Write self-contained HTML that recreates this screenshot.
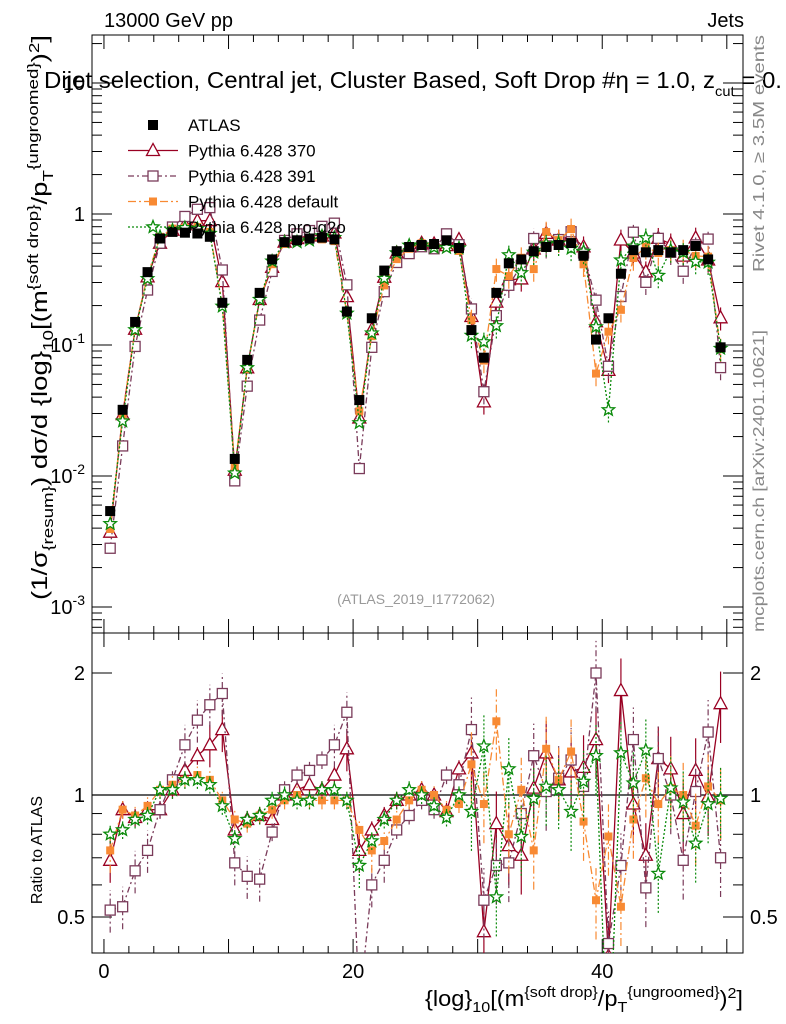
<!DOCTYPE html>
<html><head><meta charset="utf-8"><style>
html,body{margin:0;background:#fff;overflow:hidden;width:786px;height:1024px;}
svg{display:block;font-family:"Liberation Sans",sans-serif;overflow:hidden;}
</style></head><body>
<svg id="c" width="786" height="1024" xmlns="http://www.w3.org/2000/svg"></svg>
<script>
const binCenters=[0.5,1.5,2.5,3.5,4.5,5.5,6.5,7.5,8.5,9.5,10.5,11.5,12.5,13.5,14.5,15.5,16.5,17.5,18.5,19.5,20.5,21.5,22.5,23.5,24.5,25.5,26.5,27.5,28.5,29.5,30.5,31.5,32.5,33.5,34.5,35.5,36.5,37.5,38.5,39.5,40.5,41.5,42.5,43.5,44.5,45.5,46.5,47.5,48.5,49.5];
const atlasValues=[0.0054,0.032,0.15,0.36,0.65,0.73,0.72,0.71,0.67,0.21,0.0135,0.077,0.25,0.45,0.61,0.63,0.65,0.66,0.64,0.18,0.038,0.16,0.37,0.52,0.56,0.58,0.59,0.63,0.55,0.13,0.08,0.25,0.42,0.45,0.52,0.56,0.58,0.6,0.48,0.11,0.16,0.35,0.53,0.51,0.53,0.51,0.53,0.57,0.45,0.096];
const ratio370=[0.69,0.92,0.88,0.92,0.92,1.03,1.15,1.25,1.33,1.45,0.82,0.87,0.89,0.87,1,1.03,1.06,1.03,1.12,1.3,0.73,0.82,0.89,0.97,1,1.03,1,0.91,1.16,1.27,0.46,0.85,0.75,0.71,1.04,1.27,1.09,1.14,1.17,1.37,0.4,1.81,0.95,0.71,1.23,1.16,0.9,1.15,0.99,1.68];
const ratio391=[0.52,0.53,0.65,0.73,0.92,1.09,1.33,1.53,1.67,1.78,0.68,0.63,0.62,0.81,1.03,1.12,1.15,1.22,1.33,1.6,0.3,0.6,0.69,0.82,0.89,0.97,0.92,1.12,1.06,1.45,0.55,0.67,0.68,0.9,1.25,1.02,1.1,1.22,1.05,2.0,0.43,0.67,1.37,0.59,1.23,1.0,0.69,1.02,1.43,0.7];
const ratioDefault=[0.73,0.92,0.89,0.94,1.03,1.06,1.09,1.12,1.09,0.97,0.87,0.85,0.89,0.92,0.97,1,0.97,0.97,0.97,0.97,0.82,0.73,0.77,0.87,0.97,1.03,1,0.92,0.95,1.19,0.95,1.52,0.8,1.03,0.73,1.3,1.09,1.28,0.86,0.55,0.79,0.53,0.87,1.1,0.95,1.04,1.0,0.84,1.05,0.97];
const ratioProQ2o=[0.8,0.82,0.87,0.89,1.03,1.03,1.09,1.09,1.06,0.94,0.78,0.87,0.89,0.97,1,0.97,0.97,1.03,1.03,0.97,0.67,0.77,0.87,0.97,1.03,1,0.94,0.88,1.0,0.91,1.32,0.56,1.16,0.79,0.98,1.05,1.03,0.91,1.08,1.25,0.2,1.27,1.07,1.29,0.64,1.04,0.96,0.76,0.95,0.98];
const xTicks=[0,20,40];
const mainYTicks=[0.001,0.01,0.1,1,10];
const mainYLabels=["10^-3","10^-2","10^-1","1","10"];
const ratioYTicks=[0.5,1,2];

const S=document.getElementById('c');const NS='http://www.w3.org/2000/svg';
function el(t,a,p){const e=document.createElementNS(NS,t);for(const k in a)e.setAttribute(k,a[k]);(p||S).appendChild(e);return e;}
const X0=92,X1=743,MY0=35,MY1=633,RY0=633,RY1=953;
const xMin=-0.96,xMax=51.3;
const xs=v=>X0+(v-xMin)/(xMax-xMin)*(X1-X0);
const ym=v=>214-131*Math.log10(v);
const yr=v=>795-122*Math.log2(v);

let f=el('rect',{x:X0,y:MY0,width:X1-X0,height:MY1-MY0,fill:'none',stroke:'#000','stroke-width':1});

f=el('rect',{x:X0,y:RY0,width:X1-X0,height:RY1-RY0,fill:'none',stroke:'#000','stroke-width':1});


for(let v=0;v<=50;v+=2){const X=xs(v);const L=v%10==0?14:7;
 el('line',{x1:X,x2:X,y1:MY1,y2:MY1-L,stroke:'#000'});el('line',{x1:X,x2:X,y1:MY0,y2:MY0+L,stroke:'#000'});
 el('line',{x1:X,x2:X,y1:RY1,y2:RY1-L,stroke:'#000'});el('line',{x1:X,x2:X,y1:RY0,y2:RY0+L,stroke:'#000'});}
xTicks.forEach(v=>{const t=el('text',{x:xs(v),y:978,'font-size':20,'text-anchor':'middle'});t.textContent=v;
 });
for(let d=-4;d<=1;d++){for(let m=1;m<10;m++){const v=m*Math.pow(10,d);const Y=ym(v);if(Y<MY0||Y>MY1)continue;const L=m==1?20:10;
 el('line',{x1:X0,x2:X0+L,y1:Y,y2:Y,stroke:'#000'});el('line',{x1:X1,x2:X1-L,y1:Y,y2:Y,stroke:'#000'});}}
mainYTicks.forEach((v,i)=>{const lab=mainYLabels[i];const t=el('text',{x:85,y:ym(v)+7,'font-size':20,'text-anchor':'end'});
 
 if(lab.indexOf('^')>0){const p=lab.split('^');t.textContent=p[0];const s=el('tspan',{'font-size':14,dy:-9},t);s.textContent=p[1];}else t.textContent=lab;});
[0.5,0.6,0.7,0.8,0.9,1,2].forEach(v=>{const Y=yr(v);const L=(v==0.5||v==1||v==2)?20:10;
 el('line',{x1:X0,x2:X0+L,y1:Y,y2:Y,stroke:'#000'});el('line',{x1:X1,x2:X1-L,y1:Y,y2:Y,stroke:'#000'});});
ratioYTicks.forEach(v=>{let t=el('text',{x:85,y:yr(v)+7,'font-size':20,'text-anchor':'end'});t.textContent=v;
 
 t=el('text',{x:750,y:yr(v)+7,'font-size':20});t.textContent=v;
 });
el('line',{x1:X0,x2:X1,y1:yr(1),y2:yr(1),stroke:'#000','stroke-width':1.2});

const clipM=el('clipPath',{id:'cm'});el('rect',{x:X0,y:MY0,width:X1-X0,height:MY1-MY0},clipM);
const clipR=el('clipPath',{id:'cr'});el('rect',{x:X0,y:RY0,width:X1-X0,height:RY1-RY0},clipR);

function marker(g,type,X,Y,col){
 if(type=='sq')el('rect',{x:X-5,y:Y-5,width:10,height:10,fill:'#000'},g);
 else if(type=='tri')el('polygon',{points:`${X},${Y-7} ${X-6.5},${Y+5} ${X+6.5},${Y+5}`,fill:'#fff',stroke:col,'stroke-width':1.3},g);
 else if(type=='osq')el('rect',{x:X-5,y:Y-5,width:10,height:10,fill:'#fff',stroke:col,'stroke-width':1.3},g);
 else if(type=='fsq')el('rect',{x:X-4,y:Y-4,width:8,height:8,fill:col},g);
 else if(type=='star'){let p=[];for(let i=0;i<10;i++){const r=i%2?2.8:6.5;const a=-Math.PI/2+i*Math.PI/5;p.push((X+r*Math.cos(a)).toFixed(1)+','+(Y+r*Math.sin(a)).toFixed(1));}
  el('polygon',{points:p.join(' '),fill:'#fff',stroke:col,'stroke-width':1.3},g);}
}
const series=[
 {name:'pythia-370',r:ratio370,col:'#990022',dash:'',m:'tri'},
 {name:'pythia-391',r:ratio391,col:'#7a3b5a',dash:'6,3,2,3',m:'osq'},
 {name:'pythia-default',r:ratioDefault,col:'#f88a33',dash:'8,3,2,3',m:'fsq'},
 {name:'pythia-pro-q2o',r:ratioProQ2o,col:'#0a8a0a',dash:'2,2',m:'star'}];
series.forEach(s=>{
 const gm=el('g',{'clip-path':'url(#cm)'});
 const gr=el('g',{'clip-path':'url(#cr)'});
 const pm=binCenters.map((x,i)=>xs(x)+','+ym(atlasValues[i]*s.r[i])).join(' ');
 const pr=binCenters.map((x,i)=>xs(x)+','+yr(s.r[i])).join(' ');
 el('polyline',{points:pm,fill:'none',stroke:s.col,'stroke-width':1.3,'stroke-dasharray':s.dash},gm);
 el('polyline',{points:pr,fill:'none',stroke:s.col,'stroke-width':1.3,'stroke-dasharray':s.dash},gr);
 binCenters.forEach((x,i)=>{const v=atlasValues[i]*s.r[i];let e=Math.abs(s.r[i]-1)>0.25?0.12:0.05;if(x>29)e=0.2;
  el('line',{x1:xs(x),x2:xs(x),y1:yr(s.r[i]*(1-e)),y2:yr(s.r[i]*(1+e)),stroke:s.col,'stroke-width':1.2,'stroke-dasharray':s.dash},gr);
  if(x>29)el('line',{x1:xs(x),x2:xs(x),y1:ym(v*(1-e)),y2:ym(v*(1+e)),stroke:s.col,'stroke-width':1.2,'stroke-dasharray':s.dash},gm);
  marker(gm,s.m,xs(x),ym(v),s.col);marker(gr,s.m,xs(x),yr(s.r[i]),s.col);});
});
const ga=el('g',{'clip-path':'url(#cm)'});
binCenters.forEach((x,i)=>marker(ga,'sq',xs(x),ym(atlasValues[i]),'#000'));

const leg=[['ATLAS','#000','','sq'],['Pythia 6.428 370','#990022','','tri'],['Pythia 6.428 391','#7a3b5a','6,3,2,3','osq'],['Pythia 6.428 default','#f88a33','8,3,2,3','fsq'],['Pythia 6.428 pro-q2o','#0a8a0a','2,2','star']];
leg.forEach((l,i)=>{const Y=125+i*25.5;const g=el('g',{});
 if(i>0)el('line',{x1:128,x2:178,y1:Y,y2:Y,stroke:l[1],'stroke-width':1.3,'stroke-dasharray':l[2]},g);
 marker(g,l[3],153,Y,l[1]);const t=el('text',{x:188,y:Y+6,'font-size':17},g);t.textContent=l[0];});

function txt(x,y,s,size,name,extra){const t=el('text',Object.assign({x:x,y:y,'font-size':size},extra||{}));t.innerHTML=s;return t;}
txt(104,27,'13000 GeV pp',20,'beam-label');
txt(744,27,'Jets',20,'process-label',{'text-anchor':'end'});
txt(44,88,'Dijet selection, Central jet, Cluster Based, Soft Drop #\u03b7 = 1.0, z<tspan font-size="14" dy="8">cut</tspan><tspan dy="-8"> = 0.</tspan>',23,'plot-title',{textLength:738,lengthAdjust:'spacingAndGlyphs'});
txt(416,604,'(ATLAS_2019_I1772062)',14,'analysis-id',{'text-anchor':'middle',fill:'#999'});
txt(0,0,'Rivet 4.1.0, \u2265 3.5M events',16,'rivet-label',{transform:'translate(764,272) rotate(-90)',fill:'#888',textLength:237,lengthAdjust:'spacingAndGlyphs'});
txt(0,0,'mcplots.cern.ch [arXiv:2401.10621]',16,'mcplots-label',{transform:'translate(764,632) rotate(-90)',fill:'#888',textLength:302,lengthAdjust:'spacingAndGlyphs'});
txt(0,0,'Ratio to ATLAS',16,'ratio-y-axis-title',{transform:'translate(42,850) rotate(-90)','text-anchor':'middle'});
txt(0,0,'(1/\u03c3<tspan font-size="15" dy="6">{resum}</tspan><tspan dy="-6">) d\u03c3/d {log}</tspan><tspan font-size="15" dy="6">10</tspan><tspan dy="-6">[(m</tspan><tspan font-size="15" dy="-9">{soft drop}</tspan><tspan dy="9">/p</tspan><tspan font-size="15" dy="6">T</tspan><tspan font-size="15" dy="-15">{ungroomed}</tspan><tspan dy="9">)</tspan><tspan font-size="15" dy="-8">2</tspan><tspan dy="8">]</tspan>',22,'y-axis-title',{transform:'translate(47,600) rotate(-90)',textLength:565,lengthAdjust:'spacingAndGlyphs'});
txt(425,1006,'{log}<tspan font-size="15" dy="6">10</tspan><tspan dy="-6">[(m</tspan><tspan font-size="15" dy="-9">{soft drop}</tspan><tspan dy="9">/p</tspan><tspan font-size="15" dy="6">T</tspan><tspan font-size="15" dy="-15">{ungroomed}</tspan><tspan dy="9">)</tspan><tspan font-size="15" dy="-8">2</tspan><tspan dy="8">]</tspan>',22,'x-axis-title',{textLength:318,lengthAdjust:'spacingAndGlyphs'});
</script>
</body></html>
